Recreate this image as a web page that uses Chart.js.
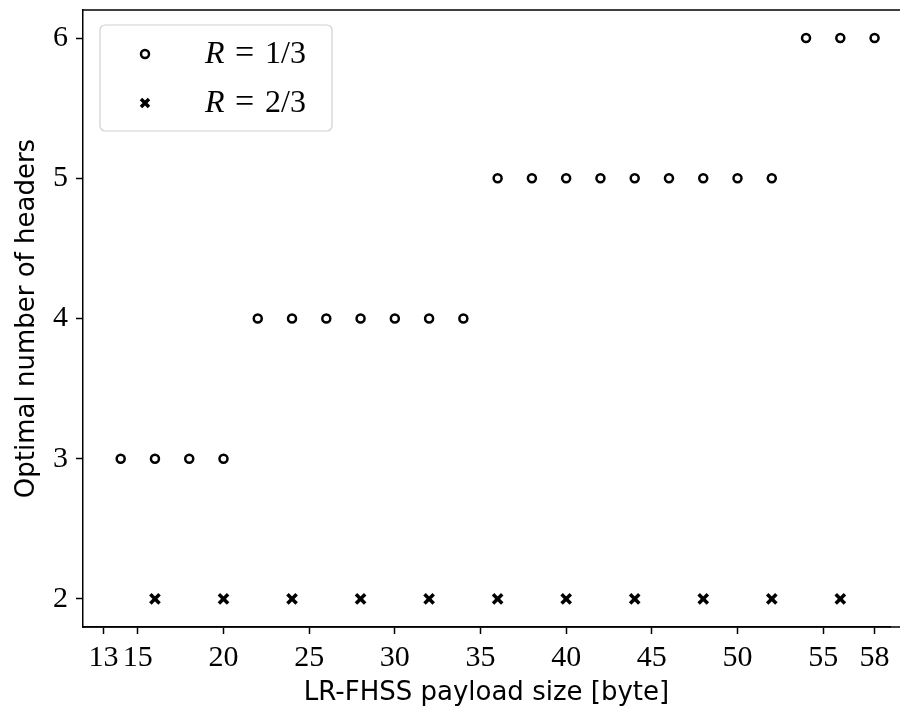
<!DOCTYPE html>
<html>
<head>
<meta charset="UTF-8" />
<title>Optimal number of headers</title>
<script src="https://cdn.jsdelivr.net/npm/chart.js"></script>
<style>
  body { margin: 0; padding: 0; background: #fff; overflow: hidden; }
</style>
</head>
<body>
<canvas id="chart" width="900" height="713"></canvas>
<script>
  // payload sizes and optimal header counts
  const payloadR13 = [14, 16, 18, 20, 22, 24, 26, 28, 30, 32, 34, 36, 38, 40, 42, 44, 46, 48, 50, 52, 54, 56, 58];
  const headersR13 = [3, 3, 3, 3, 4, 4, 4, 4, 4, 4, 4, 5, 5, 5, 5, 5, 5, 5, 5, 5, 6, 6, 6];
  const payloadR23 = [16, 20, 24, 28, 32, 36, 40, 44, 48, 52, 56];
  const headersR23 = [2, 2, 2, 2, 2, 2, 2, 2, 2, 2, 2];
  const xTicks = [13, 15, 20, 25, 30, 35, 40, 45, 50, 55, 58];
  const yTicks = [2, 3, 4, 5, 6];

  const serif = '"Liberation Serif", "Times New Roman", serif';
  const sans = '"DejaVu Sans", sans-serif';

  // top spine (right spine is cut off by the picture edge) + legend box
  const framePlugin = {
    id: 'frame',
    afterDraw(chart) {
      const { ctx, chartArea: a } = chart;
      ctx.save();
      ctx.strokeStyle = '#000';
      ctx.lineWidth = 1.5;
      ctx.beginPath();
      ctx.moveTo(a.left, a.top);
      ctx.lineTo(chart.width, a.top);
      ctx.moveTo(a.left, a.bottom);
      ctx.lineTo(chart.width, a.bottom);
      ctx.stroke();

      // legend
      const bx = 100, by = 25, bw = 232, bh = 106, r = 5;
      ctx.beginPath();
      ctx.moveTo(bx + r, by);
      ctx.arcTo(bx + bw, by, bx + bw, by + bh, r);
      ctx.arcTo(bx + bw, by + bh, bx, by + bh, r);
      ctx.arcTo(bx, by + bh, bx, by, r);
      ctx.arcTo(bx, by, bx + bw, by, r);
      ctx.closePath();
      ctx.fillStyle = 'rgba(255,255,255,0.8)';
      ctx.fill();
      ctx.strokeStyle = '#d0d0d0';
      ctx.lineWidth = 1.2;
      ctx.stroke();

      ctx.strokeStyle = '#000';
      ctx.lineWidth = 2.5;
      ctx.beginPath();
      ctx.arc(145, 54, 4, 0, Math.PI * 2);
      ctx.stroke();
      ctx.lineWidth = 3.5;
      ctx.beginPath();
      ctx.moveTo(141, 99); ctx.lineTo(149, 107);
      ctx.moveTo(149, 99); ctx.lineTo(141, 107);
      ctx.stroke();

      const labels = ['1/3', '2/3'];
      ctx.fillStyle = '#000';
      ctx.textBaseline = 'alphabetic';
      labels.forEach((lab, i) => {
        const y = 63 + i * 49;
        ctx.font = 'italic 32px ' + serif;
        ctx.fillText('R', 205, y);
        ctx.font = '34px ' + serif;
        ctx.fillText('=', 235, y);
        ctx.font = '32px ' + serif;
        ctx.fillText(lab, 265, y);
      });
      ctx.restore();
    }
  };

  new Chart(document.getElementById('chart'), {
    type: 'scatter',
    data: {
      datasets: [
        {
          label: 'R = 1/3',
          data: payloadR13.map((x, i) => ({ x: x, y: headersR13[i] })),
          pointStyle: 'circle',
          pointRadius: 4,
          borderWidth: 2.5,
          borderColor: '#000',
          backgroundColor: '#fff'
        },
        {
          label: 'R = 2/3',
          data: payloadR23.map((x, i) => ({ x: x, y: headersR23[i] })),
          pointStyle: 'crossRot',
          pointRadius: 6.5,
          borderWidth: 3.5,
          borderColor: '#000',
          backgroundColor: '#000'
        }
      ]
    },
    options: {
      responsive: false,
      animation: false,
      layout: { padding: { top: 9, right: 0, left: 0, bottom: 0 } },
      plugins: {
        legend: { display: false },
        tooltip: { enabled: false }
      },
      scales: {
        x: {
          type: 'linear',
          min: 11.8,
          max: 58.9,
          afterBuildTicks: s => { s.ticks = xTicks.map(v => ({ value: v })); },
          afterFit: s => { s.height = 86; s.paddingLeft = 0; s.paddingRight = 0; },
          grid: { drawOnChartArea: false, drawTicks: true, tickLength: 7, tickWidth: 1.5, color: '#000' },
          border: { display: true, color: '#000', width: 1.5 },
          ticks: { color: '#000', font: { family: serif, size: 30 }, padding: 6, maxRotation: 0, autoSkip: false },
          title: { display: true, text: 'LR-FHSS payload size [byte]', color: '#000', font: { family: sans, size: 26 }, padding: { top: 0, bottom: 4 } }
        },
        y: {
          min: 1.8,
          max: 6.2,
          afterBuildTicks: s => { s.ticks = yTicks.map(v => ({ value: v })); },
          afterFit: s => { s.width = 83; s.paddingTop = 0; s.paddingBottom = 0; },
          grid: { drawOnChartArea: false, drawTicks: true, tickLength: 7, tickWidth: 1.5, color: '#000' },
          border: { display: true, color: '#000', width: 1.5 },
          ticks: { color: '#000', font: { family: serif, size: 30 }, padding: 8 },
          title: { display: true, text: 'Optimal number of headers', color: '#000', font: { family: sans, size: 26 }, padding: { top: 12, bottom: 0 } }
        }
      }
    },
    plugins: [framePlugin]
  });
</script>
</body>
</html>
